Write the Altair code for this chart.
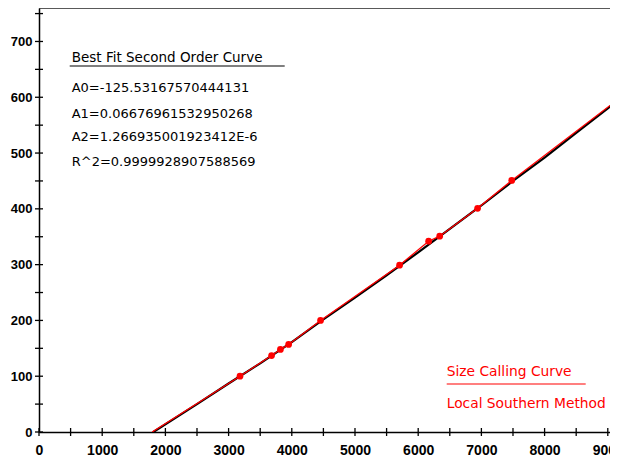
import altair as alt
import pandas as pd

# Measured calibration points (size in bp vs. scan/data point)
pt_x = [3180, 3680, 3820, 3950, 4455, 5705, 6165, 6340, 6940, 7480]
pt_y = [100, 137, 148, 157, 200, 299, 342, 351, 401, 451]

# Best-fit second order curve
fit_x = [1810, 2500, 3000, 3500, 4000, 4500, 5000, 5500, 6000, 6500, 7000, 7500, 8000, 8500, 9000, 9160]
fit_y = [0, 50, 87, 123, 161, 202, 241, 281, 322, 364, 406, 450, 492, 536, 580, 595]

# Local Southern method curve (connects the calibration points)
ls_x = [1790, 3180, 3680, 3820, 3950, 4455, 5705, 6165, 6340, 6940, 7480, 9160]
ls_y = [0, 100, 137, 148, 157, 200, 299, 342, 351, 401, 451, 596]

x_ticks = list(range(0, 9001, 500))
y_ticks = list(range(0, 751, 50))
x_labels = list(range(0, 9001, 1000))
y_labels = list(range(0, 701, 100))

fit_lines = [
    "A0=-125.53167570444131",
    "A1=0.06676961532950268",
    "A2=1.266935001923412E-6",
    "R^2=0.9999928907588569",
]
fit_title = "Best Fit Second Order Curve"
legend_top = "Size Calling Curve"
legend_bottom = "Local Southern Method"

W, H = 571, 424

xs = alt.Scale(domain=[0, 9035], nice=False, zero=False)
ys = alt.Scale(domain=[0, 760], nice=False, zero=False)
X = alt.X("x:Q", scale=xs, title=None,
          axis=alt.Axis(values=x_labels, format="d", labelFlush=False, labelPadding=11,
                        labelBound=False, labelFontSize=14))
Y = alt.Y("y:Q", scale=ys, title=None,
          axis=alt.Axis(values=y_labels, format="d", labelPadding=7, labelFontSize=13))

fit_df = pd.DataFrame({"x": fit_x, "y": fit_y})
ls_df = pd.DataFrame({"x": ls_x, "y": ls_y})
pt_df = pd.DataFrame({"x": pt_x, "y": pt_y})

fit_line = alt.Chart(fit_df).mark_line(color="black", strokeWidth=2.2, clip=True).encode(x=X, y=Y)
ls_line = alt.Chart(ls_df).mark_line(color="#ff0000", strokeWidth=1.3, clip=True).encode(x=X, y=Y)
pts = alt.Chart(pt_df).mark_point(filled=True, color="#ff0000", size=45, opacity=1, shape="circle").encode(x=X, y=Y)

ytick_df = pd.DataFrame({"y": y_ticks})
xtick_df = pd.DataFrame({"x": x_ticks})
yt = alt.Chart(ytick_df).mark_rule(color="black", strokeWidth=1.3).encode(
    y=Y, x=alt.value(-4), x2=alt.value(4))
xt = alt.Chart(xtick_df).mark_rule(color="black", strokeWidth=1.3).encode(
    x=X, y=alt.value(H - 4), y2=alt.value(H + 4))

top_border = alt.Chart(pd.DataFrame({"a": [0]})).mark_rule(color="#222222", strokeWidth=1.6).encode(
    x=alt.value(0), x2=alt.value(W + 10), y=alt.value(0))

font = "DejaVu Sans"
ann_title = alt.Chart(pd.DataFrame({"t": [fit_title]})).mark_text(
    align="left", baseline="middle", font=font, fontSize=13.5, color="black").encode(
    text="t:N", x=alt.value(32.7), y=alt.value(50))
ann_rows = [{"t": s, "py": p} for s, p in zip(fit_lines, [80, 106, 129, 154])]
ann = alt.Chart(pd.DataFrame(ann_rows)).mark_text(
    align="left", baseline="middle", font=font, fontSize=13, color="black").encode(
    text="t:N", x=alt.value(32.7), y=alt.Y("py:Q", scale=None))
ann_rule = alt.Chart(pd.DataFrame({"a": [0]})).mark_rule(color="black", strokeWidth=1.2).encode(
    x=alt.value(30.7), x2=alt.value(245.7), y=alt.value(58))

red_rows = [{"t": legend_top, "py": 364}, {"t": legend_bottom, "py": 396}]
red_txt = alt.Chart(pd.DataFrame(red_rows)).mark_text(
    align="left", baseline="middle", font=font, fontSize=13.8, color="#ff0000").encode(
    text="t:N", x=alt.value(407.7), y=alt.Y("py:Q", scale=None))
red_rule = alt.Chart(pd.DataFrame({"a": [0]})).mark_rule(color="#ff0000", strokeWidth=1.2).encode(
    x=alt.value(407.7), x2=alt.value(546.7), y=alt.value(376))

chart = alt.layer(
    top_border, yt, xt, fit_line, ls_line, pts, ann_title, ann, ann_rule, red_txt, red_rule
).properties(
    width=W, height=H,
    autosize=alt.AutoSizeParams(type="none"),
    padding={"left": 31, "top": 0, "right": 0, "bottom": 24},
).configure_view(stroke=None).configure_axis(
    domain=True, domainColor="black", domainWidth=1.5, ticks=False, grid=False,
    labelFont="Liberation Sans", labelFontWeight="bold", labelColor="black",
)

chart.save("out.html", embed_options={"renderer": "svg", "actions": False})
